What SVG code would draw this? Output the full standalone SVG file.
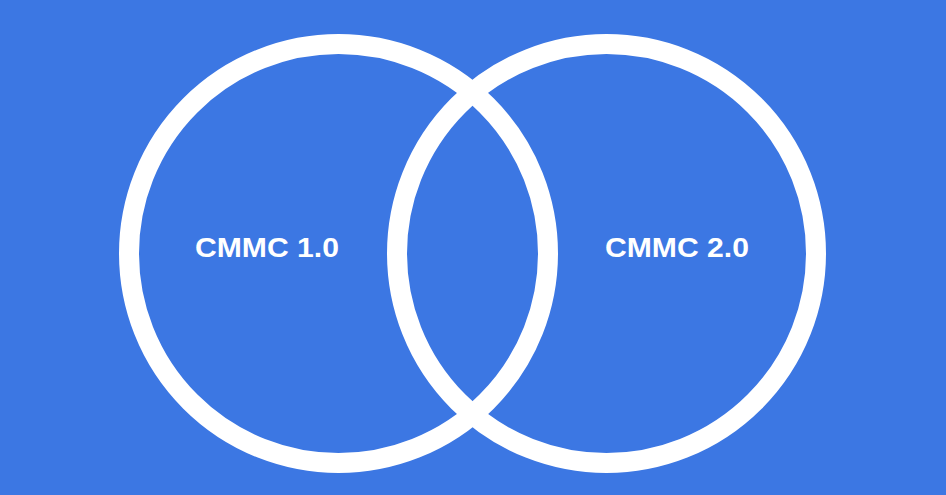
<svg xmlns="http://www.w3.org/2000/svg" width="946" height="495" viewBox="0 0 946 495">
<style>
.ring{fill:none;stroke:#ffffff;stroke-width:20}
.lbl{font-family:"Liberation Sans",Arial,sans-serif;font-weight:bold;font-size:27px;fill:#ffffff;text-anchor:middle}
</style>
<rect x="0" y="0" width="946" height="495" fill="#3c77e3"/>
<g id="circle-left">
<circle class="ring" cx="338.5" cy="253.5" r="209.5"/>
<text class="lbl" x="267" y="257" textLength="144" lengthAdjust="spacingAndGlyphs">CMMC 1.0</text>
</g>
<g id="circle-right">
<circle class="ring" cx="606.5" cy="253.5" r="209.5"/>
<text class="lbl" x="677" y="257" textLength="144" lengthAdjust="spacingAndGlyphs">CMMC 2.0</text>
</g>
<g id="connectors"></g>
</svg>
